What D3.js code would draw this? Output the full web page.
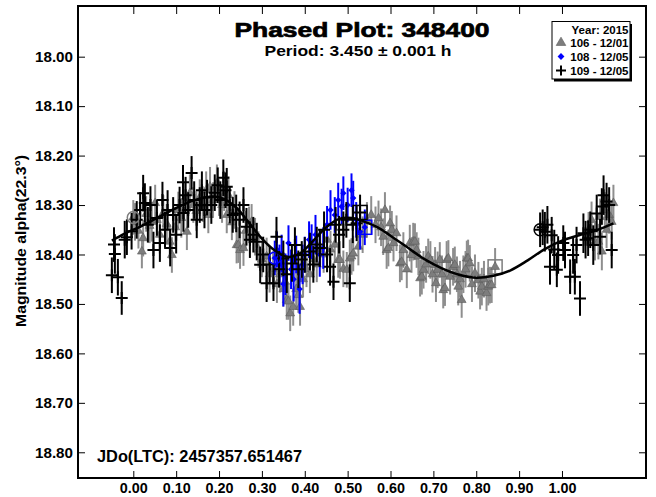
<!DOCTYPE html>
<html>
<head>
<meta charset="utf-8">
<script src="https://cdn.jsdelivr.net/npm/d3@7"></script>
<style>
  body { margin: 0; background: #fff; }
  svg { display: block; }
  text { font-family: "Liberation Sans", Arial, sans-serif; font-weight: bold; fill: #000; }
</style>
</head>
<body>
<svg id="chart" width="656" height="497"></svg>
<script>
// ---- axis ticks ----
const xTicks = [0.00, 0.10, 0.20, 0.30, 0.40, 0.50, 0.60, 0.70, 0.80, 0.90, 1.00];
const yTicks = [18.00, 18.10, 18.20, 18.30, 18.40, 18.50, 18.60, 18.70, 18.80];

// ---- legend ----
const legendYear = "Year: 2015";
const sessionLabels = ["106 - 12/01", "108 - 12/05", "109 - 12/05"];

// ---- observations: [phase, magnitude, error] ----
const session106 = [
  [0.000,18.325,0.035],[0.004,18.334,0.038],[0.012,18.352,0.036],[0.020,18.394,0.034],[0.023,18.367,0.037],
  [0.030,18.318,0.036],[0.038,18.342,0.035],[0.043,18.334,0.040],[0.051,18.296,0.037],[0.055,18.330,0.035],
  [0.062,18.360,0.038],[0.070,18.316,0.036],[0.078,18.338,0.040],[0.085,18.374,0.035],[0.090,18.401,0.036],
  [0.098,18.345,0.038],[0.105,18.310,0.037],[0.112,18.326,0.040],[0.118,18.290,0.036],[0.125,18.354,0.037],
  [0.132,18.276,0.038],[0.140,18.300,0.036],[0.147,18.312,0.040],[0.155,18.285,0.037],[0.162,18.298,0.036],
  [0.170,18.270,0.038],[0.175,18.320,0.037],[0.179,18.263,0.040],[0.186,18.290,0.036],[0.195,18.256,0.038],
  [0.200,18.285,0.037],[0.207,18.300,0.036],[0.212,18.272,0.040],[0.218,18.320,0.037],[0.222,18.280,0.038],
  [0.230,18.335,0.036],[0.236,18.310,0.038],[0.241,18.381,0.037],[0.245,18.381,0.036],[0.249,18.391,0.038],
  [0.257,18.387,0.036],[0.262,18.352,0.040],[0.270,18.340,0.037],[0.276,18.334,0.036],[0.284,18.364,0.038],
  [0.292,18.390,0.037],[0.300,18.410,0.036],[0.311,18.404,0.038],[0.318,18.440,0.037],[0.326,18.430,0.036],
  [0.335,18.460,0.038],[0.342,18.440,0.037],[0.350,18.470,0.036],[0.354,18.455,0.038],[0.358,18.492,0.040],
  [0.362,18.495,0.037],[0.366,18.519,0.036],[0.373,18.506,0.038],[0.380,18.470,0.037],[0.385,18.482,0.036],
  [0.389,18.506,0.038],[0.396,18.450,0.037],[0.404,18.430,0.036],[0.412,18.440,0.038],[0.420,18.410,0.037],
  [0.428,18.420,0.036],[0.436,18.390,0.038],[0.444,18.400,0.037],[0.452,18.370,0.036],[0.460,18.390,0.038],
  [0.470,18.380,0.037],[0.478,18.411,0.036],[0.482,18.411,0.038],[0.490,18.429,0.037],[0.498,18.431,0.036],
  [0.505,18.408,0.038],[0.509,18.404,0.037],[0.513,18.398,0.036],[0.525,18.384,0.038],[0.535,18.360,0.037],
  [0.545,18.330,0.036],[0.555,18.320,0.038],[0.565,18.340,0.037],[0.572,18.327,0.036],[0.578,18.345,0.038],
  [0.583,18.364,0.037],[0.587,18.310,0.036],[0.591,18.391,0.038],[0.595,18.387,0.037],[0.599,18.337,0.036],
  [0.603,18.350,0.038],[0.607,18.377,0.037],[0.614,18.357,0.036],[0.622,18.418,0.038],[0.626,18.415,0.037],
  [0.630,18.391,0.036],[0.638,18.430,0.038],[0.645,18.377,0.037],[0.649,18.401,0.036],[0.653,18.374,0.038],
  [0.657,18.374,0.037],[0.661,18.391,0.036],[0.665,18.404,0.038],[0.669,18.448,0.037],[0.673,18.445,0.036],
  [0.677,18.431,0.038],[0.683,18.420,0.037],[0.688,18.404,0.036],[0.693,18.411,0.038],[0.698,18.440,0.037],
  [0.704,18.421,0.036],[0.706,18.458,0.038],[0.710,18.431,0.037],[0.715,18.411,0.036],[0.720,18.440,0.038],
  [0.723,18.472,0.037],[0.727,18.468,0.036],[0.731,18.411,0.038],[0.735,18.408,0.037],[0.739,18.445,0.036],
  [0.746,18.425,0.038],[0.750,18.421,0.037],[0.755,18.440,0.036],[0.758,18.465,0.038],[0.762,18.450,0.037],
  [0.766,18.492,0.036],[0.770,18.440,0.038],[0.775,18.430,0.037],[0.778,18.408,0.036],[0.781,18.408,0.038],
  [0.785,18.418,0.037],[0.790,18.460,0.036],[0.797,18.438,0.038],[0.805,18.452,0.037],[0.809,18.475,0.036],
  [0.813,18.465,0.038],[0.818,18.450,0.037],[0.824,18.478,0.036],[0.828,18.465,0.038],[0.832,18.462,0.037],
  [0.836,18.462,0.036],[0.844,18.425,0.038],
  [1.062,18.350,0.036],[1.069,18.330,0.037],[1.077,18.374,0.038],[1.085,18.374,0.036],[1.089,18.324,0.037],
  [1.093,18.394,0.038],[1.100,18.310,0.036],[1.104,18.350,0.037],[1.110,18.320,0.038],[1.116,18.334,0.036],
  [1.120,18.296,0.037]
];

const session108 = [
  [0.330,18.407,0.035],[0.335,18.390,0.036],[0.341,18.420,0.040],[0.346,18.398,0.038],[0.350,18.460,0.045],
  [0.355,18.440,0.042],[0.362,18.377,0.036],[0.368,18.430,0.040],[0.374,18.450,0.045],[0.380,18.400,0.038],
  [0.388,18.470,0.050],[0.395,18.420,0.040],[0.400,18.400,0.036],[0.410,18.370,0.037],[0.416,18.374,0.035],
  [0.425,18.360,0.040],[0.435,18.400,0.045],[0.443,18.387,0.042],[0.452,18.340,0.038],[0.460,18.310,0.040],
  [0.470,18.320,0.036],[0.478,18.290,0.035],[0.486,18.303,0.036],[0.490,18.276,0.034],[0.500,18.300,0.035],
  [0.509,18.270,0.034],[0.513,18.286,0.035],[0.520,18.330,0.036],[0.529,18.354,0.036],[0.540,18.345,0.036]
];

const session109 = [
  [0.949,18.350,0.035],[0.955,18.345,0.036],[0.960,18.354,0.040],[0.966,18.340,0.038],[0.972,18.425,0.036],
  [0.976,18.361,0.037],[0.982,18.390,0.040],[0.988,18.431,0.035],[0.991,18.401,0.038],[1.003,18.377,0.036],
  [1.007,18.391,0.037],[1.019,18.445,0.035],[1.026,18.401,0.038],[1.030,18.445,0.036],[1.034,18.381,0.037],
  [1.042,18.489,0.035],[1.050,18.357,0.040],[1.055,18.370,0.038],[1.061,18.367,0.036],[1.066,18.350,0.037],
  [1.073,18.381,0.040],[1.081,18.317,0.038],[1.089,18.364,0.036],[1.093,18.303,0.037],[1.097,18.280,0.040],
  [1.104,18.293,0.038],[1.110,18.300,0.036],[1.116,18.391,0.037],
  [-0.050,18.442,0.036],[-0.045,18.380,0.035],[-0.043,18.399,0.040],[-0.036,18.446,0.037],[-0.027,18.488,0.034],
  [-0.020,18.370,0.038],[-0.015,18.365,0.036],[-0.004,18.353,0.037],
  [0.008,18.330,0.038],[0.016,18.310,0.036],[0.023,18.276,0.037],[0.027,18.296,0.040],[0.034,18.340,0.036],
  [0.040,18.300,0.038],[0.047,18.391,0.037],[0.055,18.326,0.036],[0.062,18.377,0.038],[0.068,18.290,0.037],
  [0.074,18.350,0.036],[0.080,18.310,0.040],[0.086,18.387,0.037],[0.093,18.320,0.036],[0.100,18.360,0.038],
  [0.108,18.300,0.037],[0.116,18.254,0.035],[0.117,18.316,0.038],[0.122,18.280,0.037],[0.128,18.310,0.036],
  [0.136,18.235,0.034],[0.142,18.290,0.038],[0.148,18.330,0.037],[0.155,18.300,0.036],[0.160,18.270,0.038],
  [0.166,18.310,0.037],[0.172,18.285,0.036],[0.182,18.300,0.038],[0.190,18.275,0.037],[0.197,18.260,0.036],
  [0.203,18.290,0.038],[0.210,18.245,0.037],[0.215,18.270,0.036],[0.218,18.263,0.038],[0.225,18.300,0.037],
  [0.232,18.320,0.036],[0.240,18.317,0.038],[0.248,18.330,0.037],[0.257,18.300,0.036],[0.264,18.344,0.038],
  [0.272,18.370,0.037],[0.280,18.360,0.036],[0.288,18.374,0.038],[0.296,18.421,0.037],[0.303,18.400,0.036],
  [0.311,18.458,0.038],[0.318,18.420,0.037],[0.327,18.458,0.036],[0.334,18.364,0.040],[0.340,18.430,0.037],
  [0.350,18.408,0.036],[0.358,18.440,0.038],[0.370,18.418,0.037],[0.377,18.381,0.036],[0.385,18.430,0.038],
  [0.393,18.410,0.037],[0.400,18.401,0.036],[0.412,18.394,0.038],[0.420,18.420,0.037],[0.428,18.380,0.036],
  [0.435,18.387,0.038],[0.445,18.350,0.037],[0.452,18.400,0.036],[0.459,18.425,0.038],[0.467,18.455,0.037],
  [0.472,18.340,0.036],[0.480,18.360,0.038],[0.490,18.350,0.037],[0.497,18.330,0.036],[0.505,18.458,0.038],
  [0.512,18.340,0.037],[0.521,18.337,0.036],[0.529,18.315,0.036]
];

// first and last observation of each session: [phase, magnitude]
const firstPoints = [[0.000,18.325],[0.330,18.407],[0.949,18.350]];
const lastPoints  = [[0.844,18.425],[0.540,18.345],[0.529,18.315]];

// Fourier fit to the lightcurve: [phase, magnitude]
const fitCurve = [
  [-0.05,18.372],[-0.02,18.358],[0.02,18.342],[0.06,18.324],[0.10,18.306],[0.14,18.291],[0.18,18.283],
  [0.21,18.287],[0.24,18.305],[0.27,18.336],[0.30,18.368],[0.33,18.392],[0.36,18.405],[0.39,18.397],
  [0.42,18.372],[0.45,18.345],[0.48,18.328],[0.51,18.326],[0.54,18.334],[0.57,18.345],[0.60,18.362],
  [0.64,18.386],[0.68,18.410],[0.72,18.428],[0.76,18.441],[0.80,18.447],[0.84,18.443],[0.88,18.432],
  [0.92,18.412],[0.96,18.389],[1.00,18.372],[1.04,18.361],[1.08,18.351],[1.12,18.337]
];

// ---- layout ----
const svg = d3.select("#chart");
const plot = { left: 78, right: 646, top: 6, bottom: 478 };

const x = d3.scaleLinear().domain([-0.129, 1.196]).range([plot.left, plot.right]);
const y = d3.scaleLinear().domain([17.8975, 18.852]).range([plot.top, plot.bottom]);

const colors = { s106: "#7d7d7d", s106bar: "#8e8e8e", s108: "#0000ff", s109: "#000000" };
const markColors = [colors.s106, colors.s108, colors.s109];

svg.append("clipPath").attr("id", "plotClip")
  .append("rect").attr("x", plot.left).attr("y", plot.top)
  .attr("width", plot.right - plot.left).attr("height", plot.bottom - plot.top);

// ---- axes (inward ticks on all four sides) ----
const fmt = d3.format(".2f");
const tickFont = g => g.selectAll("text").style("font-size", "14.5px").style("font-weight", "bold")
  .style("font-family", '"Liberation Sans", Arial, sans-serif');

const xAxisB = svg.append("g").attr("transform", `translate(0,${plot.bottom})`)
  .call(d3.axisBottom(x).tickValues(xTicks).tickFormat(fmt).tickSizeInner(-7).tickSizeOuter(0).tickPadding(5));
xAxisB.call(tickFont);
xAxisB.selectAll("text").attr("textLength", 28).attr("lengthAdjust", "spacingAndGlyphs");

svg.append("g").attr("transform", `translate(0,${plot.top})`)
  .call(d3.axisTop(x).tickValues(xTicks).tickFormat("").tickSizeInner(-8).tickSizeOuter(0))
  .call(g => g.selectAll("text").remove());

const yAxisL = svg.append("g").attr("transform", `translate(${plot.left},0)`)
  .call(d3.axisLeft(y).tickValues(yTicks).tickFormat(fmt).tickSizeInner(-7).tickSizeOuter(0).tickPadding(5));
yAxisL.call(tickFont);
yAxisL.selectAll("text").style("font-size", "15px").attr("textLength", 38).attr("lengthAdjust", "spacingAndGlyphs");

svg.append("g").attr("transform", `translate(${plot.right},0)`)
  .call(d3.axisRight(y).tickValues(yTicks).tickFormat("").tickSizeInner(-7).tickSizeOuter(0))
  .call(g => g.selectAll("text").remove());

svg.selectAll(".domain").remove();
svg.selectAll(".tick line").attr("stroke", "#000").attr("stroke-width", 1);

// ---- data layers ----
const layer = svg.append("g").attr("clip-path", "url(#plotClip)");

function errorBars(data, color, width) {
  layer.append("g").selectAll("line").data(data).join("line")
    .attr("x1", d => x(d[0])).attr("x2", d => x(d[0]))
    .attr("y1", d => y(d[1] - d[2])).attr("y2", d => y(d[1] + d[2]))
    .attr("stroke", color).attr("stroke-width", width);
}

// session 106: grey triangles
errorBars(session106, colors.s106bar, 2);
layer.append("g").selectAll("path").data(session106).join("path")
  .attr("d", d3.symbol(d3.symbolTriangle, 34))
  .attr("transform", d => `translate(${x(d[0])},${y(d[1])})`)
  .attr("fill", colors.s106).attr("stroke", "#5c5c5c").attr("stroke-width", 0.6);

// session 108: blue diamonds
errorBars(session108, colors.s108, 2);
layer.append("g").selectAll("path").data(session108).join("path")
  .attr("d", d3.symbol(d3.symbolDiamond2, 26))
  .attr("transform", d => `translate(${x(d[0])},${y(d[1])})`)
  .attr("fill", colors.s108);

// session 109: black crosses
errorBars(session109, colors.s109, 2);
layer.append("g").selectAll("path").data(session109).join("path")
  .attr("d", "M-6,0H6M0,-6V6")
  .attr("transform", d => `translate(${x(d[0])},${y(d[1])})`)
  .attr("stroke", colors.s109).attr("stroke-width", 2).attr("fill", "none");

// first (circle) and last (square) observations of each session
layer.append("g").selectAll("circle").data(firstPoints).join("circle")
  .attr("cx", d => x(d[0])).attr("cy", d => y(d[1])).attr("r", 6)
  .attr("fill", "none").attr("stroke", (d, i) => markColors[i]).attr("stroke-width", 1.5);
layer.append("g").selectAll("rect").data(lastPoints).join("rect")
  .attr("x", d => x(d[0]) - 7).attr("y", d => y(d[1]) - 7).attr("width", 14).attr("height", 14)
  .attr("fill", "none").attr("stroke", (d, i) => markColors[i]).attr("stroke-width", 1.5);

// fit curve
layer.append("path").datum(fitCurve)
  .attr("d", d3.line().x(d => x(d[0])).y(d => y(d[1])).curve(d3.curveCatmullRom))
  .attr("fill", "none").attr("stroke", "#000").attr("stroke-width", 2.5);

// ---- frame ----
svg.append("rect").attr("x", plot.left).attr("y", plot.top)
  .attr("width", plot.right - plot.left).attr("height", plot.bottom - plot.top)
  .attr("fill", "none").attr("stroke", "#000").attr("stroke-width", 2);

// ---- titles ----
svg.append("text").attr("x", 362).attr("y", 37).attr("text-anchor", "middle")
  .style("font-size", "21px").attr("textLength", 255).attr("lengthAdjust", "spacingAndGlyphs")
  .attr("stroke", "#000").attr("stroke-width", 0.7)
  .text("Phased Plot: 348400");
svg.append("text").attr("x", 358).attr("y", 56).attr("text-anchor", "middle")
  .style("font-size", "15px").attr("textLength", 187).attr("lengthAdjust", "spacingAndGlyphs")
  .text("Period: 3.450 \u00b1 0.001 h");

svg.append("text").attr("x", 97).attr("y", 461.5)
  .style("font-size", "16px").attr("textLength", 205).attr("lengthAdjust", "spacingAndGlyphs")
  .text("JDo(LTC): 2457357.651467");

svg.append("text").attr("transform", "translate(25.5,241) rotate(-90)").attr("text-anchor", "middle")
  .style("font-size", "14px").attr("textLength", 172).attr("lengthAdjust", "spacingAndGlyphs")
  .text("Magnitude alpha(22.3\u00b0)");

// ---- legend ----
const lg = svg.append("g");
lg.append("rect").attr("x", 554).attr("y", 24).attr("width", 78).attr("height", 57.5).attr("fill", "#000");
lg.append("rect").attr("x", 552).attr("y", 21.5).attr("width", 78).attr("height", 57.5)
  .attr("fill", "#fff").attr("stroke", "#000").attr("stroke-width", 1);
lg.append("text").attr("x", 628.5).attr("y", 33.5).attr("text-anchor", "end")
  .style("font-size", "11.5px").text(legendYear);
const rowY = [46.7, 60.5, 74.5];
lg.selectAll(".lbl").data(sessionLabels).join("text").attr("class", "lbl")
  .attr("x", 628.5).attr("y", (d, i) => rowY[i]).attr("text-anchor", "end")
  .style("font-size", "11.5px").text(d => d);
lg.append("path").attr("d", d3.symbol(d3.symbolTriangle, 40))
  .attr("transform", `translate(561,${rowY[0] - 4})`).attr("fill", colors.s106).attr("stroke", "#5c5c5c").attr("stroke-width", 0.6);
lg.append("path").attr("d", d3.symbol(d3.symbolDiamond2, 30))
  .attr("transform", `translate(561,${rowY[1] - 4})`).attr("fill", colors.s108);
lg.append("path").attr("d", "M-5,0H5M0,-5V5")
  .attr("transform", `translate(561,${rowY[2] - 4})`).attr("stroke", "#000").attr("stroke-width", 2);
</script>
</body>
</html>
